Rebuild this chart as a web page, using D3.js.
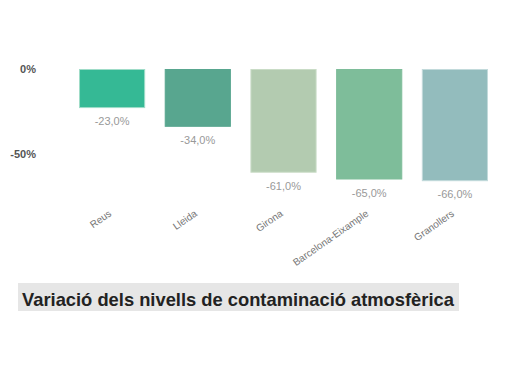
<!DOCTYPE html>
<html><head><meta charset="utf-8">
<script src="https://cdn.jsdelivr.net/npm/d3@7"></script>
<style>body{margin:0;background:#fff}svg{display:block}</style>
</head><body>
<script>
const categories = ["Reus","Lleida","Girona","Barcelona-Eixample","Granollers"];
const values = [-23.0,-34.0,-61.0,-65.0,-66.0];
const colors = ["#35b995","#58a68f","#b3cbb0","#7ebd9a","#93bcbd"];
const strokes = ["#9fdcc8","#58a68f","#c9dcc6","#7ebd9a","#c2dadb"];
const tickValues = [0,-50];
const title = "Variació dels nivells de contaminació atmosfèrica";

const W=507,H=375;
const svg=d3.select("body").append("svg").attr("width",W).attr("height",H);
const font="'Liberation Sans', Arial, sans-serif";

const x=d3.scaleBand().domain(categories).range([69.25,497.75]).paddingInner(0.228).paddingOuter(0.114);
const y=d3.scaleLinear().domain([0,-100]).range([69,239]);

const yAxis=svg.append("g").attr("transform","translate(36,0)")
  .call(d3.axisLeft(y).tickValues(tickValues).tickSize(0).tickPadding(0).tickFormat(d=>d+"%"));
yAxis.select(".domain").remove();
yAxis.selectAll("text").attr("font-family",font).attr("font-size",11).attr("font-weight","bold").attr("fill","#555");

svg.selectAll("rect.bar").data(values).join("rect").attr("class","bar")
  .attr("x",(d,i)=>x(categories[i])+0.5).attr("y",y(0)+0.5)
  .attr("width",x.bandwidth()-1).attr("height",d=>y(d)-y(0)-1)
  .attr("fill",(d,i)=>colors[i]).attr("stroke",(d,i)=>strokes[i]).attr("stroke-width",1);

svg.selectAll("text.val").data(values).join("text").attr("class","val")
  .attr("x",(d,i)=>x(categories[i])+x.bandwidth()/2).attr("y",d=>y(d)+17)
  .attr("text-anchor","middle").attr("font-family",font).attr("font-size",11)
  .attr("fill","#999").text(d=>d.toFixed(1).replace(".",",")+"%");

svg.selectAll("text.cat").data(categories).join("text").attr("class","cat")
  .attr("transform",d=>`translate(${x(d)+x.bandwidth()/2},${215}) rotate(-35)`)
  .attr("text-anchor","end").attr("font-family",font).attr("font-size",10)
  .attr("fill","#777").text(d=>d);

svg.append("rect").attr("x",18).attr("y",283).attr("width",441).attr("height",28).attr("fill","#e6e6e6");
const t=svg.append("text").attr("x",22).attr("y",306).attr("font-family",font).attr("font-size",18)
  .attr("font-weight","bold").attr("fill","#222").text(title);
const len=t.node().getComputedTextLength();
t.attr("font-size",18*432/len);
</script>
</body></html>
